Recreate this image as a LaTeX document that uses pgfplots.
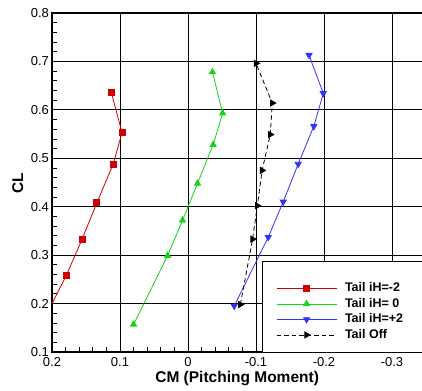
\documentclass[border=0pt]{standalone}
\usepackage{pgfplots}
\pgfplotsset{compat=1.18}
\usepackage{fontspec}
\setmainfont{Liberation Sans}

\definecolor{cmred}{RGB}{210,0,0}
\definecolor{cmgreen}{RGB}{20,210,20}
\definecolor{cmblue}{RGB}{50,50,255}

\begin{document}
\begin{tikzpicture}
\useasboundingbox (-52pt,-38pt) rectangle (370pt,352pt);
\clip (-52pt,-38pt) rectangle (370pt,352pt);
\begin{axis}[
  at={(0,0)}, anchor=south west,
  scale only axis, width=374pt, height=339pt,
  x dir=reverse,
  xmin=-0.35, xmax=0.2, ymin=0.1, ymax=0.8,
  xtick={-0.3,-0.2,-0.1,0,0.1,0.2},
  ytick={0.1,0.2,0.3,0.4,0.5,0.6,0.7,0.8},
  minor xtick={0.18,0.16,0.14,0.12,0.08,0.06,0.04,0.02,
    -0.02,-0.04,-0.06,-0.08,-0.12,-0.14,-0.16,-0.18,
    -0.22,-0.24,-0.26,-0.28,-0.32,-0.34},
  minor ytick={0.12,0.14,0.16,0.18,0.22,0.24,0.26,0.28,
    0.32,0.34,0.36,0.38,0.42,0.44,0.46,0.48,0.52,0.54,0.56,0.58,
    0.62,0.64,0.66,0.68,0.72,0.74,0.76,0.78},
  tick pos=left, tick align=inside,
  major tick length=8pt, minor tick length=5pt,
  every tick/.style={black, line width=0.8pt},
  grid=major,
  major grid style={black, line width=0.95pt},
  axis line style={line width=1.6pt},
  ticklabel style={font=\fontsize{13}{15}\selectfont},
  /pgf/number format/assume math mode=true,
  xticklabel style={yshift=-1.5pt},
  yticklabel style={xshift=0.5pt},
  xlabel={CM (Pitching Moment)}, ylabel={CL},
  xlabel style={font=\bfseries\fontsize{15.5}{18}\selectfont,
    at={(axis description cs:0.495,-0.0906)}, anchor=base},
  ylabel style={font=\bfseries\fontsize{15.5}{18}\selectfont,
    at={(axis description cs:-0.0775,0.4985)}, anchor=base},
  legend style={at={(0.599,0.211)}, anchor=north west, draw=none, fill=none,
    inner xsep=0pt, inner ysep=0pt, column sep=6pt,
    font=\bfseries\fontsize{12.5}{15}\selectfont, cells={anchor=west},
    nodes={inner ysep=2pt, text height=9pt, text depth=2.5pt}},
  legend image code/.code={\draw[mark repeat=2, mark phase=2, #1]
    plot coordinates {(0pt,0pt) (30pt,0pt) (60pt,0pt)};},
  clip marker paths=true,
]
% white legend frame covering the grid
\draw[fill=white, line width=0.8pt] (axis cs:-0.1088,0.1) rectangle (axis cs:-0.40,0.2863);

\addplot[cmred, line width=0.8pt, mark=square*, mark size=3pt,
  mark options={solid, fill=cmred}] coordinates {
  (0.209,0.175) (0.179,0.258) (0.156,0.332) (0.134,0.408)
  (0.110,0.488) (0.097,0.553) (0.113,0.637)};
\addlegendentry{Tail iH=-2}

\addplot[cmgreen, line width=0.8pt, mark=triangle*, mark size=3.5pt,
  mark options={solid, fill=cmgreen}] coordinates {
  (0.080,0.157) (0.030,0.299) (0.008,0.372) (-0.014,0.448)
  (-0.037,0.528) (-0.051,0.593) (-0.036,0.678)};
\addlegendentry{Tail iH= 0}

\addplot[cmblue, line width=0.8pt, mark=triangle*, mark size=3.5pt,
  mark options={solid, fill=cmblue, rotate=180}] coordinates {
  (-0.068,0.195) (-0.118,0.337) (-0.140,0.410) (-0.162,0.488)
  (-0.185,0.566) (-0.199,0.634) (-0.178,0.713)};
\addlegendentry{Tail iH=+2}

\addplot[black, line width=0.8pt, dash pattern=on 4.5pt off 3pt,
  mark=triangle*, mark size=3.5pt,
  mark options={solid, fill=black, rotate=-90}] coordinates {
  (-0.077,0.198) (-0.095,0.333) (-0.102,0.402) (-0.109,0.475)
  (-0.121,0.549) (-0.124,0.614) (-0.100,0.696)};
\addlegendentry{Tail Off}
\end{axis}
\end{tikzpicture}
\end{document}
